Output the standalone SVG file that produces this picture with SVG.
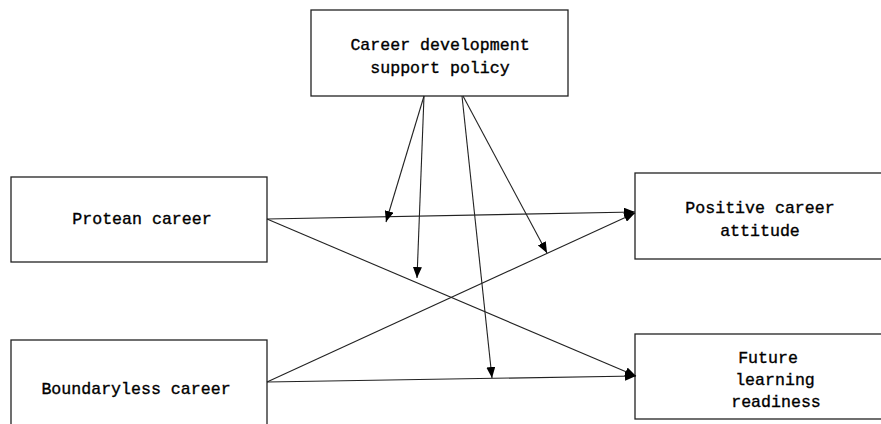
<svg xmlns="http://www.w3.org/2000/svg" width="881" height="424" viewBox="0 0 881 424">
<style>
.box{fill:#fff;stroke:#222;stroke-width:1.3}
.t{font-family:"Liberation Mono","DejaVu Sans Mono",monospace;font-size:16.6px;fill:#000;stroke:#000;stroke-width:0.35;text-anchor:middle}
.c{stroke:#222;stroke-width:1.1;fill:none;marker-end:url(#ah)}
</style>
<defs>
<marker id="ah" viewBox="0 0 11 9" refX="11" refY="4.5" markerWidth="11" markerHeight="9" markerUnits="userSpaceOnUse" orient="auto">
<path d="M0,0 L11,4.5 L0,9 Z" fill="#000"/>
</marker>
</defs>
<rect width="881" height="424" fill="#fff"/>
<g id="policy">
<rect class="box" x="311" y="10" width="257" height="86"/>
<text class="t" x="440" y="50">Career development</text>
<text class="t" x="440" y="73">support policy</text>
</g>
<g id="protean">
<rect class="box" x="11" y="177" width="256" height="85"/>
<text class="t" x="142" y="224">Protean career</text>
</g>
<g id="boundaryless">
<rect class="box" x="11" y="340" width="256" height="100"/>
<text class="t" x="136" y="394">Boundaryless career</text>
</g>
<g id="positive">
<rect class="box" x="635" y="173" width="260" height="86"/>
<text class="t" x="760" y="213">Positive career</text>
<text class="t" x="760" y="236">attitude</text>
</g>
<g id="future">
<rect class="box" x="635" y="334" width="260" height="85"/>
<text class="t" x="768" y="363">Future</text>
<text class="t" x="775" y="385">learning</text>
<text class="t" x="776" y="407">readiness</text>
</g>
<g id="connectors">
<line class="c" x1="267" y1="219" x2="635" y2="212"/>
<line class="c" x1="267" y1="219" x2="636" y2="376"/>
<line class="c" x1="267" y1="382" x2="635" y2="213"/>
<line class="c" x1="267" y1="382" x2="636" y2="376"/>
<line class="c" x1="424" y1="96" x2="386" y2="222"/>
<line class="c" x1="424" y1="96" x2="417" y2="278"/>
<line class="c" x1="462" y1="96" x2="492" y2="378"/>
<line class="c" x1="463" y1="96" x2="547" y2="253"/>
</g>
</svg>
